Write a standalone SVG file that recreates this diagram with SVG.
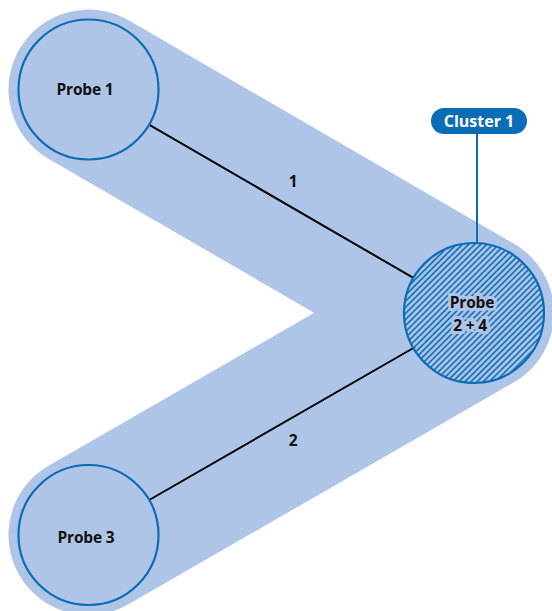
<svg xmlns="http://www.w3.org/2000/svg" width="552" height="611" viewBox="0 0 552 611">
  <style>
    .node { fill: #aec5e7; stroke: #0b6db5; stroke-width: 2.2; }
    .lbl { font-family: "Open Sans", "Liberation Sans", sans-serif; font-weight: 700; font-size: 15.5px; letter-spacing: -0.2px; fill: #111; text-anchor: middle; }
    .edge { stroke: #000; stroke-width: 2; fill: none; }
    .halo { paint-order: stroke; stroke: #aec5e7; stroke-width: 6; stroke-linejoin: miter; }
  </style>
  <defs>
    <pattern id="hatch" patternUnits="userSpaceOnUse" width="4.3" height="10" patternTransform="rotate(45)">
      <rect width="4.3" height="10" fill="#aec5e7"/>
      <line x1="1" y1="0" x2="1" y2="10" stroke="#0b6db5" stroke-width="1.6"/>
    </pattern>
  </defs>

  <rect width="552" height="611" fill="#fff"/>

  <!-- cluster band -->
  <polyline id="band" points="88.5,89.5 474,313 88.5,535" fill="none" stroke="#aec5e7" stroke-width="160" stroke-linejoin="round" stroke-linecap="round"/>

  <!-- connectors -->
  <g id="connectors">
    <line class="edge" x1="149" y1="124.6" x2="413.4" y2="277.9"/>
    <line class="edge" x1="149.2" y1="500" x2="413.4" y2="348"/>
    <line x1="477" y1="134" x2="477" y2="243" stroke="#0b6db5" stroke-width="2"/>
    <text class="lbl" x="293" y="187">1</text>
    <text class="lbl" x="293" y="446">2</text>
  </g>

  <g id="probe1">
    <circle class="node" cx="88.5" cy="89.5" r="70"/>
    <text class="lbl" x="85" y="95">Probe 1</text>
  </g>

  <g id="probe3">
    <circle class="node" cx="88.5" cy="535" r="70"/>
    <text class="lbl" x="86" y="543">Probe 3</text>
  </g>

  <g id="probe24">
    <circle class="node" cx="474" cy="313" r="70" style="fill:url(#hatch)"/>
    <text class="lbl halo" x="472" y="308">Probe</text>
    <text class="lbl halo" x="470" y="331">2 + 4</text>
  </g>

  <g id="cluster1">
    <rect x="431" y="108" width="96" height="26" rx="13" fill="#0b6db5"/>
    <text x="479" y="127" font-family="Open Sans, Liberation Sans, sans-serif" font-weight="700" font-size="16" fill="#fff" text-anchor="middle">Cluster 1</text>
  </g>
</svg>
